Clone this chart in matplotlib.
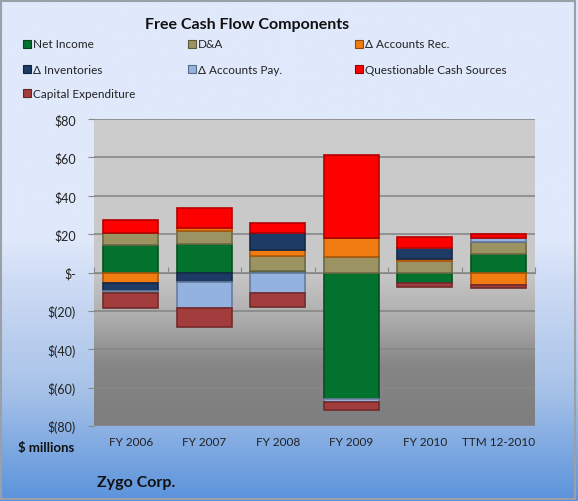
import numpy as np
import matplotlib.pyplot as plt
from matplotlib.colors import LinearSegmentedColormap, to_rgb
from matplotlib.patches import Rectangle
import matplotlib.transforms as mtransforms

plt.rcParams['font.family'] = ['Lato', 'DejaVu Sans']

categories = ['FY 2006', 'FY 2007', 'FY 2008', 'FY 2009', 'FY 2010', 'TTM 12-2010']

# $ millions
net_income = [14.5, 15.1, 0.8, -66.0, -5.7, 9.9]
d_and_a = [6.0, 6.4, 7.6, 8.0, 5.9, 6.1]
accounts_rec = [-5.4, 1.9, 3.3, 10.2, 1.0, -6.6]
inventories = [-4.0, -5.2, 9.0, 0.0, 5.9, 0.0]
accounts_pay = [-1.4, -13.2, -10.9, -1.4, 0.0, 2.1]
questionable = [7.0, 10.3, 4.9, 42.9, 5.8, 2.2]
capex = [-7.8, -10.2, -7.2, -4.3, -1.8, -1.4]

series = [
    ('Net Income', net_income, '#04722f'),
    ('D&A', d_and_a, '#9b9462'),
    ('\u0394 Accounts Rec.', accounts_rec, '#f17c12'),
    ('\u0394 Inventories', inventories, '#1d3b64'),
    ('\u0394 Accounts Pay.', accounts_pay, '#94b2df'),
    ('Questionable Cash Sources', questionable, '#ff0000'),
    ('Capital Expenditure', capex, '#a33c3c'),
]

yticks = [80, 60, 40, 20, 0, -20, -40, -60, -80]
ytick_labels = ['$80', '$60', '$40', '$20', '$-', '$(20)', '$(40)', '$(60)', '$(80)']


def darker(c, f=0.7):
    r, g, b = to_rgb(c)
    return (r * f, g * f, b * f)


fig = plt.figure(figsize=(5.78, 5.02), dpi=100)

# figure background gradient
bg = fig.add_axes([0, 0, 1, 1], zorder=-10)
bg_cmap = LinearSegmentedColormap.from_list(
    'bg', [(0.0, '#dfe9fb'), (0.48, '#dfe9fb'), (0.56, '#cfdcf5'),
           (0.78, '#a7c2e8'), (1.0, '#5b93dc')])
bg.imshow(np.linspace(0, 1, 256).reshape(-1, 1), aspect='auto', cmap=bg_cmap,
          extent=[0, 1, 0, 1], origin='upper')
bg.add_patch(Rectangle((0.002, 0.003), 0.992, 0.994, fill=False,
                       edgecolor='#9aa0a8', linewidth=1.5, transform=bg.transAxes))
bg.set_axis_off()

ax = fig.add_axes([94 / 578, 1 - 427 / 502, 441 / 578, 307 / 502])
ax.set_ylim(-80, 80)
ax.set_xlim(-0.5, len(categories) - 0.5)

# plot area gradient
pa_cmap = LinearSegmentedColormap.from_list(
    'pa', [(0.0, '#cccccc'), (0.5, '#c8c8c8'), (0.64, '#afafaf'),
           (0.8, '#868686'), (1.0, '#7e7e7e')])
ax.imshow(np.linspace(0, 1, 256).reshape(-1, 1), aspect='auto', cmap=pa_cmap,
          extent=[-0.5, len(categories) - 0.5, -80, 80], origin='upper', zorder=0)

for y in yticks:
    ax.axhline(y, color='#888888', linewidth=1.2, zorder=1)

x = np.arange(len(categories))
pos_base = np.zeros(len(categories))
neg_base = np.zeros(len(categories))
for name, vals, color in series:
    vals = np.array(vals)
    bottoms = np.where(vals >= 0, pos_base, neg_base)
    ax.bar(x, vals, width=0.75, bottom=bottoms, color=color,
           edgecolor=darker(color), linewidth=1.2, zorder=3)
    pos_base = pos_base + np.where(vals > 0, vals, 0)
    neg_base = neg_base + np.where(vals < 0, vals, 0)

for s in ['top', 'right']:
    ax.spines[s].set_visible(False)
ax.spines['left'].set_visible(False)
ax.spines['bottom'].set_position(('data', 0))
ax.spines['bottom'].set_color('#888888')
ax.spines['bottom'].set_zorder(2)

ax.set_yticks(yticks)
ax.set_yticklabels(ytick_labels, fontsize=9, color='#222222')
ax.tick_params(axis='y', length=4, color='#888888', pad=9)

ax.set_xticks(np.arange(-0.5, len(categories), 1.0))
ax.set_xticklabels([])
ax.tick_params(axis='x', direction='in', length=4, color='#888888')

trans = mtransforms.blended_transform_factory(ax.transData, fig.transFigure)
for i, c in enumerate(categories):
    ax.text(i, 1 - 443 / 502, c, transform=trans, ha='center', va='center',
            fontsize=8.5, color='#222222')

fig.text(247 / 578, 1 - 25 / 502, 'Free Cash Flow Components', ha='center',
         va='center', fontsize=11.5, fontweight='bold', color='#111111')
fig.text(74 / 578, 1 - 448 / 502, '$ millions', ha='right', va='center',
         fontsize=9.5, fontweight='bold', color='#111111')
fig.text(97 / 578, 1 - 483 / 502, 'Zygo Corp.', ha='left', va='center',
         fontsize=11.5, fontweight='bold', color='#111111')

# legend, three columns across the top
col_x = [24, 189, 356]
row_y = [45, 70, 94]
for k, (name, vals, color) in enumerate(series):
    cx = col_x[k % 3]
    cy = row_y[k // 3]
    fig.patches.append(Rectangle(((cx - 1) / 578, 1 - (cy + 4) / 502), 8 / 578, 8 / 502,
                                 facecolor=color, edgecolor=darker(color, 0.6),
                                 linewidth=0.8, transform=fig.transFigure, figure=fig))
    fig.text((cx + 9) / 578, 1 - cy / 502, name, ha='left', va='center',
             fontsize=8.5, color='#222222')

fig.savefig('out.png', dpi=100)
